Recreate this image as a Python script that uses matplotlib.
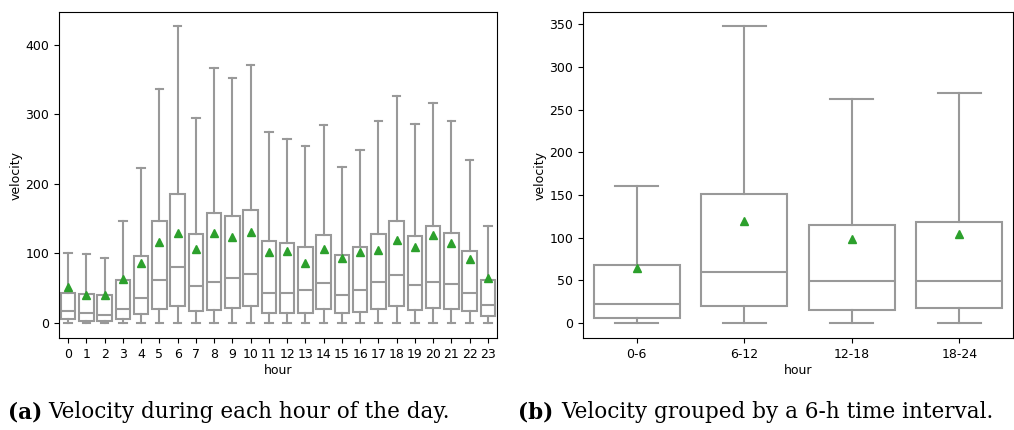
import matplotlib
matplotlib.use('Agg')
import matplotlib.pyplot as plt

# hourly box stats
hours = [str(h) for h in range(24)]
hour_whishi = [100.6, 98.7, 93.9, 146, 223, 336, 427, 294, 366.5, 352, 371, 274,
               265, 254.4, 284.6, 224, 248.6, 289.8, 326.7, 286, 316.7, 290.8, 233.8, 139.4]
hour_q3 = [43.6, 41.7, 39.8, 61.8, 96.8, 147, 185, 127.4, 158, 153.8, 163, 118.3,
           115, 109.7, 126, 97.7, 109.7, 127.9, 146, 125.5, 139.9, 128.9, 104, 61.8]
hour_med = [16.8, 13.9, 12, 20.6, 36.4, 61.8, 80, 53.2, 59.4, 64.7, 71, 42.6,
            43.6, 47, 57.5, 40.2, 47, 58.9, 69.5, 55, 58.9, 56.5, 43.6, 26.3]
hour_q1 = [5.7, 3.4, 2.9, 5.3, 12.9, 20.6, 24, 17.2, 18.7, 22, 24.4, 13.9,
           14.9, 13.9, 19.6, 13.9, 16.3, 19.6, 24.9, 18.7, 21.6, 20.6, 16.8, 10]
hour_mean = [52, 40.7, 40, 63.7, 87, 116, 129, 107, 129, 123.6, 131, 102,
             103.5, 86.7, 105.9, 93, 102, 105, 119, 108.7, 126.5, 115.5, 91.5, 65]

# 6-hour intervals
intervals = ['0-6', '6-12', '12-18', '18-24']
int_whishi = [161, 347.7, 263, 270]
int_q3 = [67.6, 150.8, 114.8, 119]
int_med = [21.9, 60.5, 48.8, 49.6]
int_q1 = [5.5, 19.9, 15.6, 18]
int_mean = [64.8, 120, 98.8, 104.7]


def make_stats(labels, whishi, q3, med, q1, mean):
    stats = []
    for i in range(len(labels)):
        stats.append({'label': labels[i], 'whislo': 0, 'q1': q1[i], 'med': med[i],
                      'q3': q3[i], 'whishi': whishi[i], 'mean': mean[i], 'fliers': []})
    return stats


gray = '#999999'
props = dict(
    widths=0.8, capwidths=0.4, showmeans=True, patch_artist=True,
    boxprops=dict(facecolor='white', edgecolor=gray, linewidth=1.5),
    medianprops=dict(color=gray, linewidth=1.5),
    whiskerprops=dict(color=gray, linewidth=1.5),
    capprops=dict(color=gray, linewidth=1.5),
    meanprops=dict(marker='^', markerfacecolor='#2ca02c', markeredgecolor='#2ca02c',
                   markersize=6),
)

plt.rcParams['font.size'] = 9
fig = plt.figure(figsize=(10.14, 4.3), dpi=100)

ax1 = fig.add_axes([59 / 1014, 92 / 430, 438 / 1014, 326 / 430])
ax1.bxp(make_stats(hours, hour_whishi, hour_q3, hour_med, hour_q1, hour_mean),
        positions=range(24), **props)
ax1.set_xlim(-0.5, 23.5)
ax1.set_ylim(-21.5, 447)
ax1.set_yticks([0, 100, 200, 300, 400])
ax1.set_xlabel('hour', labelpad=2)
ax1.set_ylabel('velocity', labelpad=2)

ax2 = fig.add_axes([583 / 1014, 92 / 430, 430 / 1014, 326 / 430])
ax2.bxp(make_stats(intervals, int_whishi, int_q3, int_med, int_q1, int_mean),
        positions=range(4), **props)
ax2.set_xlim(-0.5, 3.5)
ax2.set_ylim(-17.4, 364.5)
ax2.set_yticks(range(0, 351, 50))
ax2.set_xlabel('hour', labelpad=2)
ax2.set_ylabel('velocity', labelpad=2)

# captions
serif = ['DejaVu Serif']
cy = 18 / 430
fig.text(8 / 1014, cy, '(a)', fontsize=15.5, fontweight='bold', family=serif,
         va='center', ha='left')
fig.text(48 / 1014, cy, 'Velocity during each hour of the day.', fontsize=15.5,
         family=serif, va='center', ha='left')
fig.text(518 / 1014, cy, '(b)', fontsize=15.5, fontweight='bold', family=serif,
         va='center', ha='left')
fig.text(561 / 1014, cy, 'Velocity grouped by a 6-h time interval.', fontsize=15.5,
         family=serif, va='center', ha='left')

fig.savefig('out.png', dpi=100)
